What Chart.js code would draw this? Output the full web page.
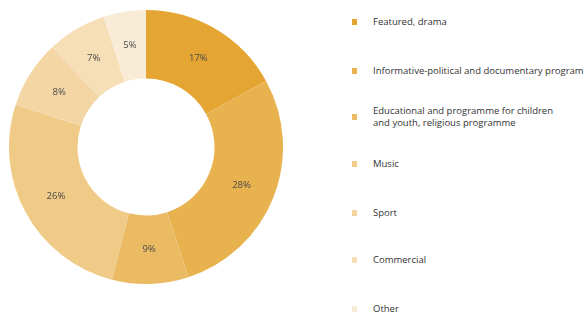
<!DOCTYPE html>
<html>
<head>
<meta charset="utf-8">
<script src="https://cdn.jsdelivr.net/npm/chart.js@4"></script>
<style>
  body { margin: 0; width: 587px; height: 313px; background: #fff; font-family: "Open Sans", sans-serif; position: relative; overflow: hidden; }
  #chartBox { position: absolute; left: 9px; top: 10px; width: 274px; height: 274px; }
  #legend { position: absolute; left: 352px; top: 0; }
  .item { position: absolute; left: 0; width: 240px; font-size: 9.5px; line-height: 12px; color: #333; }
  .item .sw { position: absolute; left: 0; width: 5px; height: 6px; }
  .item .tx { position: absolute; left: 21px; white-space: nowrap; }
</style>
</head>
<body>
<div id="chartBox"><canvas id="pie"></canvas></div>
<div id="legend"></div>
<script>
const labels = [
    ["Featured, drama"],
    ["Informative-political and documentary program"],
    ["Educational and programme for children", "and youth, religious programme"],
    ["Music"],
    ["Sport"],
    ["Commercial"],
    ["Other"]
];
const values = [17, 28, 9, 26, 8, 7, 5];
const colors = ['#E5A532', '#E8B24F', '#EBBB64', '#F0CA87', '#F4D6A5', '#F6DEB6', '#F9ECD7'];
const legendY = [22, 71, 117, 164, 213, 260, 309];

// html legend, so the two-line label wraps like the original
const legend = document.getElementById("legend");
labels.forEach((lines, i) => {
    const item = document.createElement("div");
    item.className = "item";
    item.style.top = legendY[i] + "px";
    const sw = document.createElement("div");
    sw.className = "sw";
    sw.style.background = colors[i];
    sw.style.top = "-3px";
    const tx = document.createElement("div");
    tx.className = "tx";
    tx.style.top = (-lines.length * 6) + "px";
    tx.innerHTML = lines.join("<br>");
    item.appendChild(sw);
    item.appendChild(tx);
    legend.appendChild(item);
});

const pctLabels = {
    id: 'pctLabels',
    afterDatasetsDraw(chart) {
        const ctx = chart.ctx;
        const meta = chart.getDatasetMeta(0);
        ctx.save();
        ctx.font = '9.5px "Open Sans", sans-serif';
        ctx.fillStyle = '#4a4a4a';
        ctx.textAlign = 'center';
        ctx.textBaseline = 'middle';
        meta.data.forEach((arc, i) => {
            const p = arc.tooltipPosition();
            ctx.fillText(values[i] + '%', p.x, p.y);
        });
        ctx.restore();
    }
};

const chart = new Chart(document.getElementById("pie"), {
    type: 'doughnut',
    data: {
        labels: labels.map(l => l.join(" ")),
        datasets: [{
            data: values,
            backgroundColor: colors,
            borderWidth: 0
        }]
    },
    options: {
        responsive: true,
        maintainAspectRatio: false,
        animation: false,
        cutout: '50%',
        layout: { padding: 0 },
        plugins: {
            legend: { display: false },
            tooltip: { enabled: false }
        }
    },
    plugins: [pctLabels]
});
</script>
</body>
</html>
